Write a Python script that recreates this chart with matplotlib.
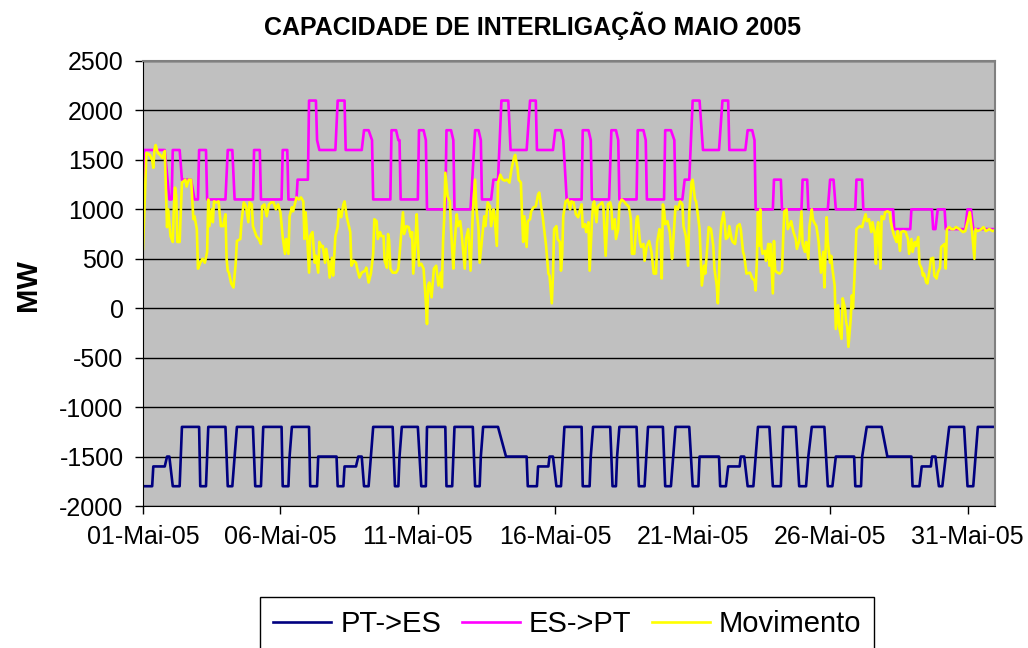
import matplotlib
matplotlib.use("Agg")
import matplotlib.pyplot as plt

plt.rcParams["font.family"] = ["Liberation Sans", "DejaVu Sans"]
plt.rcParams["axes.unicode_minus"] = False

# Dados (hora desde 01-Mai-05 00:00, valor em MW)
pt_es_horas = [0, 8, 9, 19, 21, 23, 26, 32, 34, 49, 50, 55, 56, 57, 72, 74, 78, 82, 96, 98,
               103, 104, 105, 121, 122, 127, 128, 130, 145, 146, 152, 153, 169, 170, 175, 176,
               186, 188, 191, 193, 197, 199, 201, 218, 220, 223, 224, 226, 240, 243, 247, 248,
               264, 265, 270, 271, 272, 288, 290, 294, 295, 297, 310, 317, 335, 336, 344, 345,
               354, 355, 358, 361, 365, 368, 383, 384, 390, 391, 393, 408, 410, 413, 414, 416,
               431, 433, 438, 441, 454, 456, 461, 463, 465, 477, 480, 485, 486, 503, 504, 509,
               511, 521, 522, 525, 528, 533, 535, 537, 547, 550, 557, 559, 570, 573, 579, 581,
               584, 595, 598, 602, 605, 621, 622, 627, 628, 632, 645, 650, 671, 672, 678, 680,
               688, 689, 692, 695, 698, 701, 704, 717, 720, 725, 729, 744]
pt_es_mw = [-1800, -1800, -1600, -1600, -1500, -1500, -1800, -1800, -1200, -1200, -1800, -1800,
            -1500, -1200, -1200, -1800, -1800, -1200, -1200, -1800, -1800, -1500, -1200, -1200,
            -1800, -1800, -1500, -1200, -1200, -1800, -1800, -1500, -1500, -1800, -1800, -1600,
            -1600, -1500, -1500, -1800, -1800, -1500, -1200, -1200, -1800, -1800, -1500, -1200,
            -1200, -1800, -1800, -1200, -1200, -1800, -1800, -1500, -1200, -1200, -1800, -1800,
            -1500, -1200, -1200, -1500, -1500, -1800, -1800, -1600, -1600, -1500, -1500, -1800,
            -1800, -1200, -1200, -1800, -1800, -1500, -1200, -1200, -1800, -1800, -1500, -1200,
            -1200, -1800, -1800, -1200, -1200, -1800, -1800, -1500, -1200, -1200, -1800, -1800,
            -1500, -1500, -1800, -1800, -1600, -1600, -1500, -1500, -1800, -1800, -1500, -1200,
            -1200, -1800, -1800, -1200, -1200, -1800, -1800, -1500, -1200, -1200, -1800, -1800,
            -1500, -1500, -1800, -1800, -1500, -1200, -1200, -1500, -1500, -1800, -1800, -1600,
            -1600, -1500, -1500, -1800, -1800, -1500, -1200, -1200, -1800, -1800, -1200, -1200]

es_pt_horas = [0, 1, 19, 23, 25, 26, 32, 34, 42, 45, 48, 49, 55, 56, 72, 74, 78, 80, 96, 97,
               102, 103, 121, 122, 126, 127, 134, 135, 144, 145, 151, 152, 154, 168, 170, 176,
               177, 191, 193, 197, 200, 201, 216, 217, 221, 223, 224, 225, 240, 241, 245, 247,
               248, 264, 265, 269, 271, 272, 286, 290, 293, 295, 296, 304, 306, 310, 313, 319,
               321, 335, 338, 343, 344, 358, 360, 365, 367, 370, 383, 384, 389, 391, 392, 407,
               409, 413, 415, 416, 431, 432, 437, 439, 440, 455, 456, 461, 464, 465, 471, 473,
               477, 480, 486, 489, 503, 506, 511, 512, 526, 528, 532, 534, 535, 550, 551, 557,
               558, 575, 576, 580, 581, 598, 600, 603, 605, 622, 623, 628, 629, 655, 656, 670,
               671, 689, 690, 692, 694, 700, 701, 718, 720, 723, 725, 744]
es_pt_mw = [1100, 1600, 1600, 1100, 1100, 1600, 1600, 1300, 1300, 1100, 1100, 1600, 1600, 1100,
            1100, 1600, 1600, 1100, 1100, 1600, 1600, 1100, 1100, 1600, 1600, 1100, 1100, 1300,
            1300, 2100, 2100, 1700, 1600, 1600, 2100, 2100, 1600, 1600, 1800, 1800, 1700, 1100,
            1100, 1800, 1800, 1700, 1700, 1100, 1100, 1800, 1800, 1700, 1000, 1000, 1800, 1800,
            1700, 1000, 1000, 1800, 1800, 1700, 1100, 1100, 1300, 1300, 2100, 2100, 1600, 1600,
            2100, 2100, 1600, 1600, 1800, 1800, 1700, 1100, 1100, 1800, 1800, 1700, 1100, 1100,
            1800, 1800, 1700, 1100, 1100, 1800, 1800, 1700, 1100, 1100, 1800, 1800, 1700, 1100,
            1100, 1300, 1300, 2100, 2100, 1600, 1600, 2100, 2100, 1600, 1600, 1800, 1800, 1700,
            1000, 1000, 1300, 1300, 1000, 1000, 1300, 1300, 1000, 1000, 1300, 1300, 1000, 1000,
            1300, 1300, 1000, 1000, 800, 800, 1000, 1000, 800, 800, 1000, 1000, 800, 800, 1000,
            1000, 800, 800]

mov_horas = [0, 2, 3, 6, 8, 9, 10, 11, 13, 15, 17, 19, 21, 22, 24, 26, 27, 28, 29, 30,
             32, 33, 34, 37, 38, 40, 42, 44, 45, 47, 48, 50, 52, 54, 56, 57, 58, 60, 61, 62,
             64, 66, 68, 70, 72, 73, 74, 75, 77, 79, 81, 82, 85, 86, 88, 90, 92, 93, 95, 96,
             99, 101, 103, 104, 106, 108, 110, 112, 114, 116, 118, 120, 122, 124, 125, 127, 128, 130, 131, 133,
             134, 136, 138, 140, 141, 142, 143, 145, 146, 148,
             150, 151, 153, 154, 156, 157, 159, 160, 162, 163, 165, 166, 168, 170, 171, 172, 173, 175, 176, 178,
             181, 182, 184, 186, 187, 189, 191, 194, 195, 197, 199, 201, 202, 204, 205, 207, 208, 210, 211, 213,
             214, 215, 216, 218, 221, 223, 225, 227, 228, 230, 232, 234, 235, 236, 238, 239, 241, 243, 245, 247,
             248, 249, 250, 252, 254, 256, 258, 260, 261, 262, 263, 264, 266, 268, 269, 271, 272, 274, 275, 277,
             278, 280, 281, 282, 284, 286, 288, 290, 291, 293, 294, 296, 298,
             299, 301, 303, 304, 306, 307, 309, 310, 312, 314, 316, 318, 320, 322, 324, 325, 327, 328, 330, 331,
             332, 333, 335, 336, 338, 339, 341, 343, 345, 346, 348, 349, 351, 352, 354, 355, 357, 358, 359, 361,
             362, 364, 365, 366, 367, 369, 371, 373, 374, 376, 378, 380, 381, 383, 384, 386, 387, 389, 390, 392,
             393, 394, 396, 397, 399, 401, 402, 404, 406, 408, 409, 410, 412, 413, 415, 416, 418, 420, 422, 424,
             425, 426, 427, 429, 431, 432, 434, 435, 437, 438, 440, 442, 444, 446,
             448, 449, 451, 452, 453, 454, 455, 456, 458, 460, 462, 463, 465, 467, 469, 471, 472, 474, 476, 477,
             479, 480, 482, 483, 485, 486, 487, 488, 490, 491, 492, 494, 496, 498, 499, 501, 502, 503, 504, 505,
             507, 508, 509, 511, 512, 514, 515, 517, 519, 521, 522, 524, 525, 527, 530, 532, 534, 535, 536, 537,
             538, 539, 540, 541, 543, 544, 546, 547, 548, 550, 551, 552, 554, 556, 558, 559, 560, 562, 563, 565,
             566, 568, 570, 571, 573, 575, 576, 578, 579, 581, 582, 584, 585, 586, 588, 590,
             592, 594, 595, 597, 598, 600, 601, 602, 604, 605, 607, 608, 610, 611, 613, 614, 615, 616, 618, 619,
             620, 622, 623, 626, 628, 629, 631, 632, 634, 636, 637, 639, 640, 641, 642, 644, 645, 647, 648, 650,
             652, 653, 655, 656, 658, 659, 661, 662, 664, 666, 668, 669, 671, 672, 674, 675, 677, 678, 680, 681,
             682, 684, 685, 687, 688, 690, 691, 693, 694, 696, 697, 698, 700, 701, 702, 704, 706, 708, 710, 713,
             716, 718, 720, 722, 724, 726, 727, 729, 732, 734, 736, 739, 742, 744]
mov_mw = [600, 1230, 1570, 1550, 1500, 1420, 1600, 1650, 1570, 1550, 1520, 1590, 820, 1000, 730, 670, 1030, 1220, 1130, 670,
          670, 970, 1270, 1300, 1230, 1300, 1300, 900, 930, 800, 400, 460, 500, 460, 570, 1100, 830, 1000, 870, 1080,
          1070, 1080, 830, 830, 950, 500, 380, 360, 250, 210, 460, 680, 700, 870, 1070, 1030, 870, 1070, 1050, 830,
          730, 700, 650, 1030, 1050, 930, 1050, 1070, 1070, 1000, 1050, 970, 720, 550, 700, 550, 930, 1020, 980, 1070,
          1120, 1100, 1120, 1080, 700, 970, 800, 360, 730, 770,
          460, 530, 360, 670, 620, 630, 460, 600, 460, 310, 510, 330, 730, 820, 1000, 970, 920, 1050, 1080, 920,
          770, 430, 480, 460, 400, 310, 360, 380, 410, 260, 350, 550, 900, 880, 700, 770, 730, 730, 480, 410,
          750, 680, 400, 360, 360, 400, 680, 970, 750, 830, 820, 720, 770, 350, 700, 950, 430, 450, 400, 60,
          -160, 230, 260, 110, 400, 430, 230, 360, 210, 670, 900, 1370, 1130, 1080, 800, 400, 630, 950, 830, 880,
          780, 530, 400, 700, 800, 380, 970, 1300, 1030, 800, 460, 700, 930,
          830, 1070, 1030, 830, 1000, 930, 630, 1270, 1350, 1300, 1290, 1300, 1270, 1420, 1520, 1550, 1420, 1300, 1270, 930,
          670, 930, 620, 880, 900, 980, 1020, 1030, 1150, 1170, 1000, 930, 730, 630, 350, 330, 50, 330, 800, 830,
          700, 670, 380, 530, 930, 1080, 1100, 1000, 1080, 1070, 950, 920, 970, 1050, 820, 850, 770, 870, 380, 870,
          1050, 1080, 870, 1030, 1050, 1070, 1030, 530, 1050, 1070, 1020, 800, 900, 700, 800, 1050, 1100, 1080, 1050, 1030,
          980, 900, 550, 550, 900, 930, 670, 620, 650, 480, 630, 680, 570, 350,
          350, 670, 800, 770, 300, 1050, 1000, 850, 880, 770, 500, 670, 1030, 1000, 1080, 1050, 830, 730, 430, 970,
          1270, 1300, 1100, 1080, 900, 800, 530, 230, 430, 350, 510, 820, 800, 630, 400, 230, 50, 330, 700, 850,
          970, 870, 700, 720, 830, 700, 670, 650, 830, 850, 800, 570, 530, 350, 360, 300, 280, 180, 460, 970,
          630, 1000, 620, 550, 580, 480, 650, 430, 650, 150, 680, 380, 360, 350, 380, 700, 980, 1000, 800, 850,
          880, 770, 700, 600, 680, 980, 650, 570, 670, 500, 830, 1000, 900, 870, 830, 670,
          360, 570, 210, 920, 670, 460, 530, 400, 230, -210, 30, -190, -310, 100, 0, -140, -190, -390, -110, 130,
          0, 500, 800, 830, 820, 870, 950, 880, 900, 770, 870, 750, 450, 800, 870, 400, 930, 900, 970, 980,
          970, 870, 770, 730, 670, 780, 580, 770, 780, 770, 700, 550, 700, 570, 670, 630, 720, 450, 400, 330,
          350, 260, 250, 400, 500, 510, 330, 300, 360, 410, 620, 630, 650, 400, 800, 820, 800, 800, 820, 800,
          770, 780, 870, 970, 770, 500, 800, 780, 800, 820, 780, 800, 780, 790]

dias_ticks = [1, 6, 11, 16, 21, 26, 31]
rotulos_x = ["01-Mai-05", "06-Mai-05", "11-Mai-05", "16-Mai-05", "21-Mai-05", "26-Mai-05", "31-Mai-05"]
ticks_y = [-2000, -1500, -1000, -500, 0, 500, 1000, 1500, 2000, 2500]

fig = plt.figure(figsize=(10.28, 6.48), dpi=100)
ax = fig.add_axes([143 / 1028, 142 / 648, 852 / 1028, 445 / 648])
ax.set_facecolor("#C0C0C0")

ax.plot(pt_es_horas, pt_es_mw, color="#000080", lw=1.9, label="PT->ES")
ax.plot(es_pt_horas, es_pt_mw, color="#FF00FF", lw=1.9, label="ES->PT")
ax.plot(mov_horas, mov_mw, color="#FFFF00", lw=1.9, label="Movimento")

ax.set_xlim(0, 744)
ax.set_ylim(-2000, 2500)
ax.set_xticks([(d - 1) * 24 for d in dias_ticks])
ax.set_xticklabels(rotulos_x)
ax.set_yticks(ticks_y)
ax.tick_params(direction="out", length=6, width=1, labelsize=18, pad=8)

ax.set_axisbelow(True)
ax.yaxis.grid(True, color="black", lw=1.0)
for s in ["top", "right"]:
    ax.spines[s].set_color("#808080")
    ax.spines[s].set_linewidth(1.5)
for s in ["left", "bottom"]:
    ax.spines[s].set_color("black")

fig.text(532 / 1028, 1 - 26 / 648, "CAPACIDADE DE INTERLIGAÇÃO MAIO 2005",
         ha="center", va="center", fontsize=18, fontweight="bold")
fig.text(28 / 1028, 1 - 285 / 648, "MW", rotation=90, ha="center", va="center",
         fontsize=21, fontweight="bold")

leg = fig.legend(loc="upper left", bbox_to_anchor=(260 / 1028, 1 - 597 / 648), ncol=3,
                 fontsize=21, frameon=True, fancybox=False, framealpha=1,
                 edgecolor="black", handlelength=2.0, handletextpad=0.3,
                 columnspacing=0.7, borderpad=0.45, borderaxespad=0)
leg.get_frame().set_linewidth(1.0)

fig.savefig("out.png", dpi=100)
